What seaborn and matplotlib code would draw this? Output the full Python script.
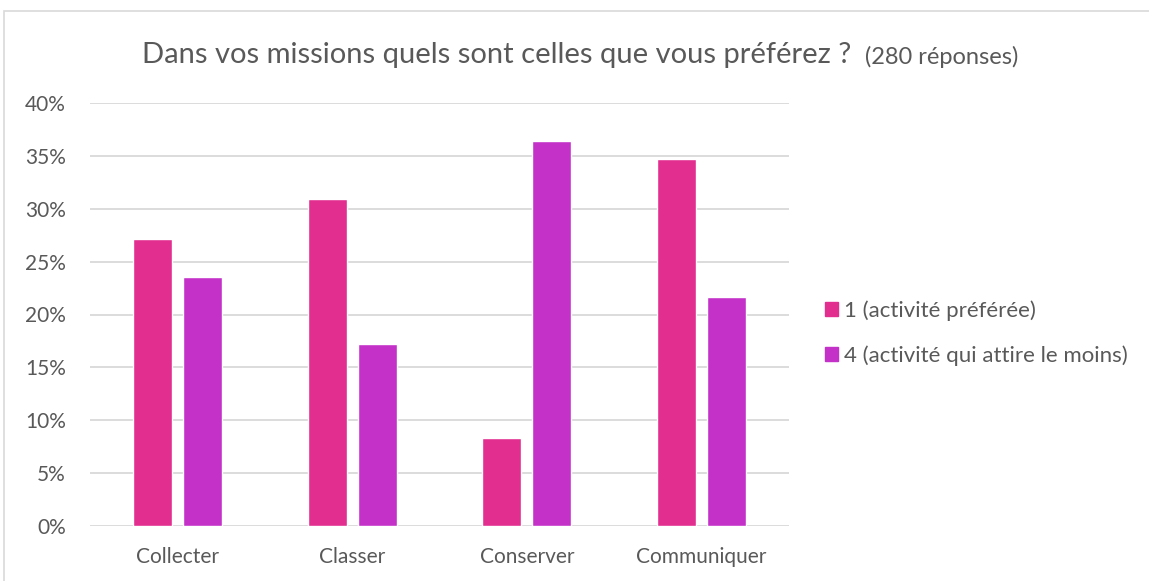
import matplotlib
matplotlib.use("Agg")
import matplotlib.pyplot as plt
import matplotlib.patches as mpatches
import seaborn as sns
import pandas as pd
from matplotlib.ticker import PercentFormatter, MultipleLocator

categories = ["Collecter", "Classer", "Conserver", "Communiquer"]
series_names = ["1 (activité préférée)", "4 (activité qui attire le moins)"]
pref = [0.271, 0.309, 0.083, 0.347]
least = [0.235, 0.172, 0.364, 0.217]
colors = ["#E22E8F", "#C431C9"]

df = pd.DataFrame({
    "cat": categories * 2,
    "serie": [series_names[0]] * 4 + [series_names[1]] * 4,
    "val": pref + least,
})

sns.set_theme(style="white")
plt.rcParams["font.family"] = ["Lato", "DejaVu Sans"]
grey = "#595959"

fig = plt.figure(figsize=(11.49, 5.81), dpi=100)
ax = fig.add_axes([90 / 1149, 1 - 526 / 581, (789 - 90) / 1149, (526 - 103) / 581])

sns.barplot(data=df, x="cat", y="val", hue="serie", palette=colors,
            width=0.572, gap=0.22, ax=ax, legend=True, saturation=1)

ax.set_ylim(0, 0.40)
ax.set_xlim(-0.5, 3.5)
ax.yaxis.set_major_locator(MultipleLocator(0.05))
ax.yaxis.set_major_formatter(PercentFormatter(1.0, decimals=0))
ax.grid(axis="y", color="#D9D9D9", linewidth=1.3)
ax.set_axisbelow(True)
for s in ax.spines.values():
    s.set_visible(False)
ax.set_xlabel("")
ax.set_ylabel("")
ax.tick_params(axis="both", length=0, colors=grey, labelsize=15)
ax.tick_params(axis="y", pad=17.5)
ax.tick_params(axis="x", pad=15)
for lbl in ax.get_yticklabels() + ax.get_xticklabels():
    lbl.set_color(grey)

handles = [mpatches.Patch(color=c) for c in colors]
ax.legend(handles, series_names, loc="center left",
          bbox_to_anchor=(805 / 1149, 1 - 333 / 581), bbox_transform=fig.transFigure,
          frameon=False, fontsize=16, labelcolor=grey, handlelength=0.6,
          handleheight=0.6, handletextpad=0.25, labelspacing=1.1)

fig.text(859 / 1149, 1 - 55 / 581, "Dans vos missions quels sont celles que vous préférez ? ",
         ha="right", va="center", fontsize=21, color=grey)
fig.text(865 / 1149, 1 - 57 / 581, "(280 réponses)",
         ha="left", va="center", fontsize=17, color=grey)

border = mpatches.Rectangle((4 / 1149, -0.1), 1.2, (1 - 11 / 581) + 0.1,
                            transform=fig.transFigure, fill=False,
                            edgecolor="#D9D9D9", linewidth=1.2)
fig.patches.append(border)

fig.savefig("out.png", dpi=100)
